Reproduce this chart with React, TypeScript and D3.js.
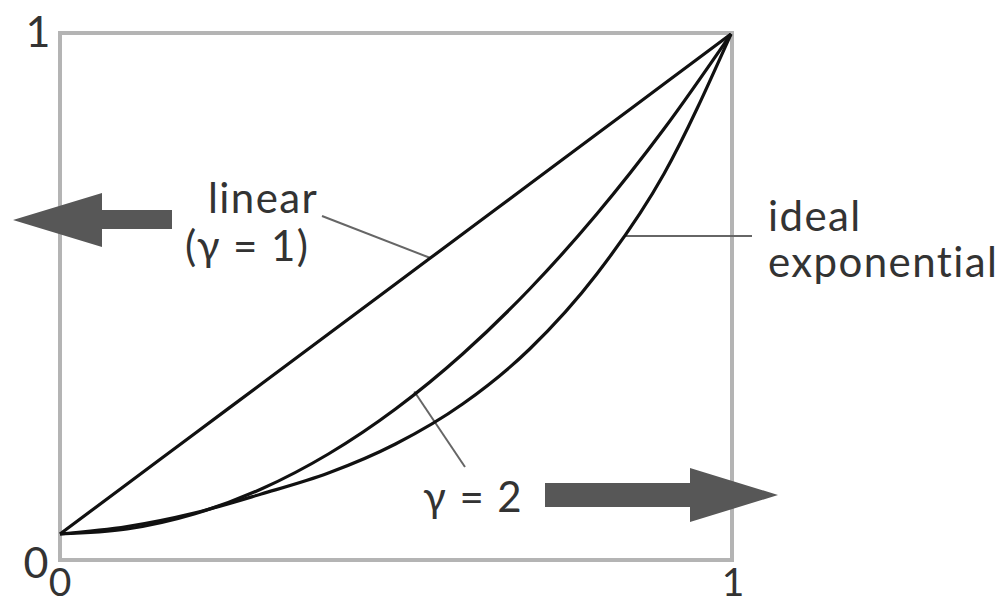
import React from "react";
import * as d3 from "d3";

// Normalised input levels (x) and output levels (y)
const inputLevels = [0, 0.1, 0.2, 0.3, 0.4, 0.5, 0.6, 0.7, 0.8, 0.9, 1];
const linearSeries = [0, 0.1, 0.2, 0.3, 0.4, 0.5, 0.6, 0.7, 0.8, 0.9, 1];
const gamma2Series = [0, 0.01, 0.04, 0.09, 0.16, 0.25, 0.36, 0.49, 0.64, 0.81, 1];
const idealExpSeries = [0, 0.015, 0.042, 0.08, 0.122, 0.18, 0.26, 0.37, 0.52, 0.72, 1];

const xTickLabels = ["0", "1"];
const yTickLabels = ["0", "1"];

const W = 1005;
const H = 606;
const FONT = "Lato, 'Noto Sans', 'DejaVu Sans', sans-serif";

export default function App() {
  const x = d3.scaleLinear().domain([0, 1]).range([60, 731]);
  const y = d3.scaleLinear().domain([0, 1]).range([534, 34]);

  const line = d3
    .line<number>()
    .x((_, i) => x(inputLevels[i]))
    .y((d) => y(d))
    .curve(d3.curveMonotoneX);

  const series = [linearSeries, gamma2Series, idealExpSeries];

  // frame
  const frame = { left: 60, right: 732, top: 33, bottom: 560 };

  // annotation anchors on curves (data space)
  const linAnchor = { u: 0.552, v: 0.552 };
  const g2Anchor = { u: 0.528, v: 0.285 };
  const expAnchor = { u: 0.842, v: 0.596 };

  const textColor = "#333";
  const arrowColor = "#575757";
  const leaderColor = "#666";

  return (
    <svg
      width={W}
      height={H}
      style={{ position: "absolute", left: 0, top: 0, background: "#fff" }}
      fontFamily={FONT}
    >
      <rect x={0} y={0} width={W} height={H} fill="#fff" />
      {/* frame */}
      <rect
        x={frame.left}
        y={frame.top}
        width={frame.right - frame.left}
        height={frame.bottom - frame.top}
        fill="none"
        stroke="#b4b4b4"
        strokeWidth={4}
      />

      {/* leader lines */}
      <line
        x1={322}
        y1={216}
        x2={x(linAnchor.u)}
        y2={y(linAnchor.v)}
        stroke={leaderColor}
        strokeWidth={2}
      />
      <line
        x1={x(expAnchor.u)}
        y1={y(expAnchor.v)}
        x2={752}
        y2={y(expAnchor.v)}
        stroke={leaderColor}
        strokeWidth={2}
      />
      <line
        x1={x(g2Anchor.u)}
        y1={y(g2Anchor.v)}
        x2={465}
        y2={467}
        stroke={leaderColor}
        strokeWidth={2}
      />

      {/* curves */}
      {series.map((s, i) => (
        <path
          key={i}
          d={line(s) || ""}
          fill="none"
          stroke="#111"
          strokeWidth={3.2}
          strokeLinejoin="round"
        />
      ))}

      {/* arrows */}
      <polygon
        points="13,220 102,193 102,210 172,210 172,229 102,229 102,247"
        fill={arrowColor}
      />
      <polygon
        points="545,483 690,483 690,468 778,495 690,522 690,507 545,507"
        fill={arrowColor}
      />

      {/* labels */}
      <g fill={textColor} fontSize={42} letterSpacing={1.4}>
        <text x={208} y={213}>linear</text>
        <text x={185} y={261}>(γ = 1)</text>
        <text x={768} y={231}>ideal</text>
        <text x={768} y={277}>exponential</text>
        <text x={423} y={512}>γ = 2</text>
      </g>

      {/* tick labels */}
      <g fill={textColor} fontSize={43} textAnchor="middle">
        <text x={38} y={47}>{yTickLabels[1]}</text>
        <text x={36} y={578}>{yTickLabels[0]}</text>
      </g>
      <g fill={textColor} fontSize={39} textAnchor="middle">
        <text x={x(0)} y={596}>{xTickLabels[0]}</text>
        <text x={x(1) + 2} y={596}>{xTickLabels[1]}</text>
      </g>
    </svg>
  );
}
